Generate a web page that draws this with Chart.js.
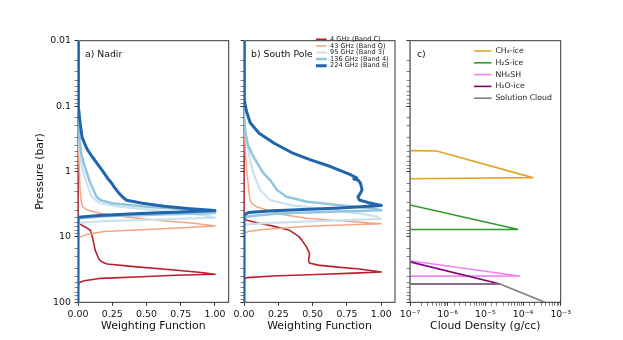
<!DOCTYPE html>
<html>
<head>
<meta charset="utf-8">
<script src="https://cdn.jsdelivr.net/npm/chart.js@4.4.1/dist/chart.umd.min.js"></script>
<style>
  html, body { margin: 0; padding: 0; background: #fff; }
  #wrap { position: relative; width: 623px; height: 340px; }
  #wrap canvas { position: absolute; left: 0; top: 0; }
</style>
</head>
<body>
<div id="wrap">
  <canvas id="nadir" width="623" height="340"></canvas>
  <canvas id="pole" width="623" height="340"></canvas>
  <canvas id="clouds" width="623" height="340"></canvas>
</div>
<script>
// Tick labels
const pressureTickLabels = ['0.01', '0.1', '1', '10', '100'];
const weightTickLabels = ['0.00', '0.25', '0.50', '0.75', '1.00'];
const densityTickLabels = ['10⁻⁷', '10⁻⁶', '10⁻⁵', '10⁻⁴', '10⁻³'];

// Frequency bands
const bandLabels = ['4 GHz (Band C)', '43 GHz (Band Q)', '95 GHz (Band 3)', '136 GHz (Band 4)', '224 GHz (Band 6)'];
const bandColors = ['#b8202e', '#f4a582', '#cde2ef', '#92c5de', '#2166ac'];
const bandWidths = [1.6, 1.5, 2.2, 2.5, 3];

// a) Nadir: pressure (bar) and weighting function
const nadirP4 = [0.01, 5.5, 6.5, 7.1, 7.9, 10, 15.9, 22, 24.5, 25.9, 28.5, 32, 35, 37.3, 38.6, 40.6, 43, 46.8, 50, 54, 100];
const nadirW4 = [0, 0, 0.02, 0.055, 0.09, 0.105, 0.125, 0.153, 0.18, 0.213, 0.41, 0.70, 0.90, 1.0, 0.71, 0.46, 0.17, 0.045, 0.012, 0, 0];
const nadirP43 = [0.01, 0.2, 0.5, 1, 2, 3, 3.5, 3.87, 4.4, 4.9, 5.55, 6.2, 6.8, 7.5, 8.3, 9.3, 10, 10.8, 100];
const nadirW43 = [0, 0.003, 0.006, 0.01, 0.016, 0.025, 0.035, 0.068, 0.165, 0.335, 0.578, 0.845, 1.0, 0.62, 0.19, 0.056, 0.015, 0, 0];
const nadirP95 = [0.01, 0.15, 0.3, 0.5, 0.85, 1.5, 2.44, 3.06, 3.45, 3.9, 4.4, 4.8, 5.1, 5.4, 5.75, 6.1, 100];
const nadirW95 = [0, 0, 0.006, 0.013, 0.027, 0.063, 0.1, 0.16, 0.3, 0.55, 0.82, 0.96, 1.0, 0.6, 0.2, 0, 0];
const nadirP136 = [0.01, 0.12, 0.2, 0.35, 0.55, 0.85, 1.5, 2.44, 2.75, 3.06, 3.45, 3.8, 4.1, 4.3, 4.55, 4.85, 5.2, 100];
const nadirW136 = [0, 0, 0.005, 0.012, 0.025, 0.05, 0.09, 0.135, 0.165, 0.25, 0.5, 0.8, 0.96, 1.0, 0.6, 0.2, 0, 0];
const nadirP224 = [0.01, 0.07, 0.1, 0.18, 0.3, 0.45, 0.6, 0.95, 1.35, 1.5, 1.7, 2.16, 2.5, 2.75, 3.06, 3.4, 3.7, 3.95, 4.15, 4.4, 4.7, 5.0, 100];
const nadirW224 = [0, 0, 0.005, 0.015, 0.03, 0.065, 0.105, 0.175, 0.226, 0.245, 0.262, 0.30, 0.33, 0.355, 0.47, 0.63, 0.82, 1.0, 0.75, 0.45, 0.15, 0, 0];

// b) South Pole
const poleP4 = [0.01, 5.2, 5.55, 6.2, 6.9, 7.9, 9.9, 11.1, 14.2, 18, 22.5, 25, 27, 29, 31, 34.4, 35.8, 37.3, 39.6, 42, 44, 100];
const poleW4 = [0, 0, 0.02, 0.11, 0.22, 0.33, 0.40, 0.42, 0.455, 0.478, 0.47, 0.475, 0.54, 0.68, 0.84, 1.0, 0.8, 0.58, 0.21, 0.02, 0, 0];
const poleP43 = [0.01, 0.15, 0.5, 1, 1.92, 2.73, 3.06, 3.45, 3.87, 4.6, 5.2, 5.9, 6.3, 6.9, 7.7, 8.3, 8.8, 100];
const poleW43 = [0, 0.003, 0.01, 0.02, 0.035, 0.044, 0.056, 0.09, 0.166, 0.29, 0.46, 0.82, 1.0, 0.46, 0.14, 0.03, 0, 0];
const poleP95 = [0.01, 0.15, 0.3, 0.59, 1.06, 1.92, 2.73, 3.27, 3.8, 4.4, 4.9, 5.3, 5.7, 6.1, 6.5, 100];
const poleW95 = [0, 0, 0.012, 0.039, 0.068, 0.117, 0.19, 0.34, 0.6, 0.85, 0.97, 1.0, 0.6, 0.2, 0, 0];
const poleP136 = [0.01, 0.15, 0.25, 0.4, 0.59, 1.06, 1.35, 1.92, 2.44, 2.9, 3.27, 3.6, 3.9, 4.1, 4.4, 4.9, 100];
const poleW136 = [0, 0, 0.01, 0.03, 0.068, 0.141, 0.19, 0.24, 0.31, 0.46, 0.70, 0.92, 1.0, 0.7, 0.25, 0, 0];
const poleP224 = [0.01, 0.06, 0.081, 0.12, 0.18, 0.26, 0.37, 0.53, 0.66, 0.84, 1.13, 1.25, 1.3, 1.35, 1.51, 1.92, 2.2, 2.44, 2.73, 2.97, 3.3, 3.6, 3.97, 4.25, 4.6, 100];
const poleW224 = [0, 0, 0.005, 0.018, 0.045, 0.11, 0.22, 0.36, 0.48, 0.63, 0.78, 0.82, 0.80, 0.83, 0.849, 0.86, 0.845, 0.83, 0.84, 0.9, 1.0, 0.70, 0.21, 0.03, 0, 0];

// c) Cloud density (g/cc) against pressure (bar)
const cloudLabels = ['CH₄-ice', 'H₂S-ice', 'NH₄SH', 'H₂O-ice', 'Solution Cloud'];
const cloudColors = ['#e0a526', '#2e9a2e', '#ee82ee', '#800080', '#808080'];
const ch4P = [0.48, 0.486, 1.24, 1.29];
const ch4D = [1e-7, 5.1e-7, 1.8e-4, 1e-7];
const h2sP = [3.25, 7.66, 7.7];
const h2sD = [1e-7, 7.1e-5, 1e-7];
const nh4shP = [23.1, 39.6, 39.8];
const nh4shD = [1e-7, 8e-5, 1e-7];
const h2oP = [24.1, 52.5, 52.6];
const h2oD = [1e-7, 2.45e-5, 1e-7];
const solP = [0.01, 52.5, 52.6, 100, 138];
const solD = [1e-7, 1e-7, 2.45e-5, 3.8e-4, 1e-3];

const font = '"DejaVu Sans", sans-serif';
Chart.defaults.font.family = font;
Chart.defaults.color = '#111';

function toPoints(xs, ys) {
    return xs.map((x, i) => ({ x: x, y: ys[i] }));
}
function isDecade(v) {
    const l = Math.log10(v);
    return Math.abs(l - Math.round(l)) < 1e-6;
}
// later series are drawn on top, as in the original plot
function lineSet(label, color, width, points, i, n) {
    return {
        label: label, data: points, borderColor: color, borderWidth: width,
        pointBorderColor: color, pointBorderWidth: width, order: n - i,
        borderJoinStyle: 'round', borderCapStyle: 'round',
        showLine: true, pointRadius: 0, tension: 0, fill: false
    };
}

// Frame round the plot area, under the curves
const frame = {
    id: 'frame',
    beforeDatasetsDraw(chart) {
        const { ctx, chartArea: a } = chart;
        ctx.save();
        ctx.strokeStyle = '#333';
        ctx.lineWidth = 1;
        ctx.strokeRect(a.left, a.top, a.right - a.left, a.bottom - a.top);
        ctx.restore();
    }
};
// Panel letter in the upper left corner
const panelLabel = {
    id: 'panelLabel',
    afterDatasetsDraw(chart, args, opts) {
        if (!opts.text) return;
        const { ctx, chartArea: a } = chart;
        ctx.save();
        ctx.font = '9.3px ' + font;
        ctx.fillStyle = '#111';
        ctx.textBaseline = 'middle';
        ctx.fillText(opts.text, a.left + 7, a.top + 13.6);
        ctx.restore();
    }
};
// Move the legend box to a fixed spot inside the plot
const legendSpot = {
    id: 'legendSpot',
    beforeDraw(chart, args, opts) {
        const lg = chart.legend;
        if (!lg || opts.x === undefined) return;
        lg.left = opts.x; lg.right = opts.x + lg.width;
        lg.top = opts.y; lg.bottom = opts.y + 220;
    }
};

function pressureAxis(showLabels, width) {
    return {
        type: 'logarithmic', min: 0.01, max: 100, reverse: true,
        border: { display: false },
        grid: {
            display: true, drawOnChartArea: false, drawTicks: true, tickLength: 3.5,
            tickColor: '#333', tickWidth: ctx => isDecade(ctx.tick.value) ? 1 : 0.6
        },
        ticks: {
            display: showLabels, autoSkip: false, padding: 3.5, color: '#111',
            font: { size: 9.4 },
            callback: v => isDecade(v) ? pressureTickLabels[Math.round(Math.log10(v)) + 2] : ''
        },
        title: {
            display: showLabels, text: 'Pressure (bar)', color: '#111',
            font: { size: 10.9 }, padding: { top: 34, bottom: 0 }
        },
        afterFit: s => { s.width = width; s.paddingTop = 0; s.paddingBottom = 0; }
    };
}
function bottomAxis(type, min, max, title, labelFor) {
    return {
        type: type, min: min, max: max,
        border: { display: false },
        grid: {
            display: true, drawOnChartArea: false, drawTicks: true, tickLength: 3.5,
            tickColor: '#333', tickWidth: ctx => labelFor(ctx.tick.value) ? 1 : 0.6
        },
        ticks: {
            autoSkip: false, maxRotation: 0, padding: 3, color: '#111', font: { size: 9.4 },
            stepSize: type === 'linear' ? 0.25 : undefined, includeBounds: false,
            callback: v => labelFor(v) || ''
        },
        title: {
            display: true, text: title, color: '#111',
            font: { size: 10.9 }, padding: { top: 0, bottom: 7.5 }
        },
        afterFit: s => { s.height = 37.7; s.paddingLeft = 0; s.paddingRight = 0; }
    };
}
const weightLabel = v => {
    const i = Math.round(v / 0.25);
    return Math.abs(v - i * 0.25) < 1e-9 && i <= 4 ? weightTickLabels[i] : null;
};
const densityLabel = v => isDecade(v) ? densityTickLabels[Math.round(Math.log10(v)) + 7] : null;

function makeChart(id, datasets, xAxis, yAxis, padLeft, padRight, plugins) {
    return new Chart(document.getElementById(id), {
        type: 'scatter',
        data: { datasets: datasets },
        options: {
            responsive: false, animation: false, events: [], devicePixelRatio: 1,
            layout: { padding: { left: padLeft, right: padRight, top: 40.7, bottom: 0 } },
            scales: { x: xAxis, y: yAxis },
            plugins: Object.assign({ tooltip: { enabled: false } }, plugins)
        },
        plugins: [frame, panelLabel, legendSpot]
    });
}
function legendOptions(lineLen, pad, size) {
    return {
        display: true, position: 'chartArea', align: 'start',
        labels: {
            usePointStyle: true, pointStyle: 'line', pointStyleWidth: lineLen, padding: pad,
            color: '#222', font: { size: size },
            sort: (a, b) => a.datasetIndex - b.datasetIndex
        }
    };
}

const nadirSets = [
    [nadirP4, nadirW4], [nadirP43, nadirW43], [nadirP95, nadirW95], [nadirP136, nadirW136], [nadirP224, nadirW224]
].map((s, i, all) => lineSet(bandLabels[i], bandColors[i], bandWidths[i], toPoints(s[1], s[0]), i, all.length));
const poleSets = [
    [poleP4, poleW4], [poleP43, poleW43], [poleP95, poleW95], [poleP136, poleW136], [poleP224, poleW224]
].map((s, i, all) => lineSet(bandLabels[i], bandColors[i], bandWidths[i], toPoints(s[1], s[0]), i, all.length));
const cloudSets = [
    [ch4P, ch4D], [h2sP, h2sD], [nh4shP, nh4shD], [h2oP, h2oD], [solP, solD]
].map((s, i, all) => lineSet(cloudLabels[i], cloudColors[i], 1.6, toPoints(s[1], s[0]), i, all.length));

makeChart('nadir', nadirSets,
    bottomAxis('linear', 0, 1.1, 'Weighting Function', weightLabel),
    pressureAxis(true, 78), 0, 394.3,
    { legend: { display: false }, panelLabel: { text: 'a) Nadir' } });

makeChart('pole', poleSets,
    bottomAxis('linear', 0, 1.1, 'Weighting Function', weightLabel),
    pressureAxis(false, 8), 236, 228,
    {
        legend: legendOptions(10.7, 0, 6.6),
        legendSpot: { x: 316, y: 36 },
        panelLabel: { text: 'b) South Pole' }
    });

makeChart('clouds', cloudSets,
    bottomAxis('logarithmic', 1e-7, 1e-3, 'Cloud Density (g/cc)', densityLabel),
    pressureAxis(false, 8), 402, 62.3,
    {
        legend: legendOptions(17.5, 4, 7.8),
        legendSpot: { x: 470, y: 43.1 },
        panelLabel: { text: 'c)' }
    });
</script>
</body>
</html>
